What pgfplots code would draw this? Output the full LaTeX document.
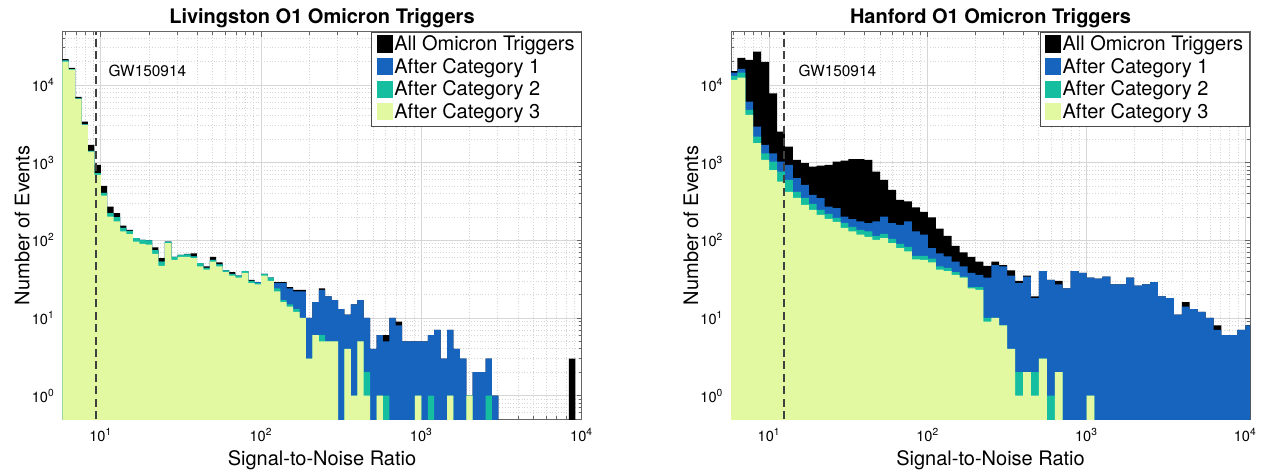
\documentclass[border=0pt]{standalone}
\usepackage{fontspec}
\setmainfont{TeX Gyre Heros}
\usepackage{pgfplots}
\usepackage{pgfplotstable}
\pgfplotsset{compat=1.18}

\definecolor{cA}{RGB}{0,0,0}
\definecolor{cB}{RGB}{22,100,190}
\definecolor{cC}{RGB}{22,190,160}
\definecolor{cD}{RGB}{226,248,161}

% Livingston: bin left edge, counts (All, Cat1, Cat2, Cat3); 0.1 = empty bin
\pgfplotstableread{
x all ca cb cc
5.7544 0.1 0.1 0.1 0.1
5.7544 21500 20800 20800 20000
6.3096 16600 16000 16000 15800
6.9183 7000 6700 6700 6600
7.5858 3370 3100 3100 3060
8.3176 1690 1420 1420 1390
9.1201 935 731 731 696
10 502 408 408 377
10.965 272 223 223 202
12.023 223 199 199 175
13.183 154 144 144 130
14.454 136 132 132 120
15.849 107 107 107 96
17.378 101 101 101 90
19.055 100 100 100 88
20.893 81 75 75 67
22.909 59 53 53 47
25.119 96 96 96 92
27.542 61 61 61 56
30.200 65 65 65 61
33.113 67 66 66 61
36.308 68 62 62 59
39.811 51 51 51 46
43.652 46 44 44 42
47.863 61 56 56 53
52.481 52 49 49 46
57.544 41 41 41 39
63.096 39 37 37 35
69.183 35 35 35 33
75.858 40 40 40 38
83.176 31 30 30 28
91.201 29 29 28 27
100 37 37 37 35
109.65 33 33 33 30
120.23 29 28 24 22
131.83 29 28 17 16
144.54 25 24 15 14
158.49 23 22 13 12
173.78 23 22 10 10
190.55 10 10 3 3
208.93 16 16 6 6
229.09 24 23 6 5
251.19 19 19 5 5
275.42 17 17 5 5
302.00 13 13 0.1 0.1
331.13 11 11 4 4
363.08 15 15 1 1
398.11 17 17 5 5
436.52 10 10 2 1
478.63 4 4 0.1 0.1
524.81 6 6 1 1
575.44 6 5 1 0.1
630.96 10 10 0.1 0.1
691.83 9 8 0.1 0.1
758.58 5 5 0.1 0.1
831.76 5 5 0.1 0.1
912.01 5 5 1 1
1000 5 5 0.1 0.1
1096.5 6 6 1 0.1
1202.3 7 7 0.1 0.1
1318.3 3 3 0.1 0.1
1445.4 7 7 1 1
1584.9 4 4 0.1 0.1
1737.8 3 3 0.1 0.1
1905.5 1 1 1 1
2089.3 2 2 0.1 0.1
2290.9 2 2 0.1 0.1
2511.9 3 3 1 0.1
2754.2 1 1 0.1 0.1
3020.0 0.1 0.1 0.1 0.1
8317.6 3 0.1 0.1 0.1
9120.1 0.1 0.1 0.1 0.1
10000 0.1 0.1 0.1 0.1
}\Ltab

% Hanford
\pgfplotstableread{
x all ca cb cc
5.6234 0.1 0.1 0.1 0.1
5.6234 15100 14400 13100 11600
6.3096 22400 16100 14400 12400
7.0795 21000 6100 4760 4110
7.9433 26800 2910 2160 1780
8.9125 19900 1690 1320 1085
10 7820 1320 1030 800
11.220 2510 1030 767 570
12.589 1610 935 600 421
14.125 1085 631 421 352
15.849 984 517 352 286
17.783 889 385 295 247
19.953 916 349 247 213
22.387 935 272 219 189
25.119 1030 259 195 173
28.184 1064 202 168 145
31.623 1107 187 149 130
35.481 1107 175 136 118
39.811 1085 166 130 111
44.668 767 175 114 101
50.119 600 202 121 107
56.234 446 166 104 92
63.096 332 158 90 79
70.795 316 175 82 72
79.433 266 130 63 57
89.125 233 118 63 56
100 198 79 58 52
112.20 141 68 46 42
125.89 114 62 44 40
141.25 85 53 39 36
158.49 70 46 34 33
177.83 61 38 25 24
199.53 53 36 25 23
223.87 47 33 10 9
251.19 53 48 10 10
281.84 48 46 8 8
316.23 41 35 4 4
354.81 30 28 2 1
398.11 35 34 2 2
446.68 19 18 2 1
501.19 40 40 3 3
562.34 31 31 1 0.1
630.96 30 27 2 2
707.95 24 24 0.1 0.1
794.33 40 40 0.1 0.1
891.25 38 38 0.1 0.1
1000 33 33 1 1
1122.0 32 32 0.1 0.1
1258.9 34 34 0.1 0.1
1412.5 27 27 0.1 0.1
1584.9 27 27 0.1 0.1
1778.3 33 33 0.1 0.1
1995.3 26 26 0.1 0.1
2238.7 27 27 0.1 0.1
2511.9 29 29 0.1 0.1
2818.4 19 19 0.1 0.1
3162.3 18 18 0.1 0.1
3548.1 11 11 0.1 0.1
3981.1 16 14 0.1 0.1
4466.8 13 13 0.1 0.1
5011.9 12 12 0.1 0.1
5623.4 10 10 0.1 0.1
6309.6 8 7 0.1 0.1
7079.5 6 6 0.1 0.1
7943.3 6 6 0.1 0.1
8912.5 7 7 0.1 0.1
10000 8 8 0.1 0.1
11220 8 8 0.1 0.1
11220 0.1 0.1 0.1 0.1
}\Htab

\begin{document}
\begin{tikzpicture}
\useasboundingbox (0pt,0pt) rectangle (634.5pt,-235.5pt);

\begin{axis}[at={(31.15pt,-209.5pt)}, anchor=south west, width=259.7pt,
    xmin=5.7544, xmax=10000, title={Livingston O1 Omicron Triggers},
    scale only axis,
    height=193.65pt,
    xmode=log, ymode=log,
    ymin=0.5, ymax=48500,
    xtick={10,100,1000,10000},
    xticklabels={10\textsuperscript{1},10\textsuperscript{2},10\textsuperscript{3},10\textsuperscript{4}},
    ytick={1,10,100,1000,10000},
    yticklabels={10\textsuperscript{0},10\textsuperscript{1},10\textsuperscript{2},10\textsuperscript{3},10\textsuperscript{4}},
    minor xtick={6,7,8,9,20,30,40,50,60,70,80,90,200,300,400,500,600,700,800,900,2000,3000,4000,5000,6000,7000,8000,9000},
    minor ytick={0.6,0.7,0.8,0.9,2,3,4,5,6,7,8,9,20,30,40,50,60,70,80,90,200,300,400,500,600,700,800,900,2000,3000,4000,5000,6000,7000,8000,9000,20000,30000,40000},
    tick align=inside,
    major tick length=2.6pt, minor tick length=1.6pt,
    grid=both,
    major grid style={draw=black!16, line width=0.4pt},
    minor grid style={draw=black!16, line width=0.4pt, densely dotted},
    axis line style={draw=black!60, line width=0.45pt},
    tick style={draw=black!60, line width=0.4pt},
    tick label style={font=\fontsize{7.3}{8}\selectfont},
    xticklabel style={anchor=base, inner sep=0pt, yshift=-11.3pt},
    yticklabel style={anchor=east, inner sep=0pt, xshift=-3.6pt},
    title style={font=\bfseries\fontsize{10}{12}\selectfont, at={(axis description cs:0.5,1)}, anchor=base, yshift=-1.8pt},
    xlabel={Signal-to-Noise Ratio},
    ylabel={Number of Events},
    label style={font=\fontsize{10}{12}\selectfont},
    xlabel style={at={(axis description cs:0.5,0)}, anchor=base, yshift=-23pt},
    ylabel style={at={(axis description cs:-0.0635,0.5)}, anchor=base},
    legend style={at={(1,1)}, anchor=north east, draw=black!70, line width=0.4pt, fill=white,
      font=\fontsize{10}{11}\selectfont, inner xsep=2.5pt, inner ysep=1.2pt, row sep=0.3pt,
      nodes={inner sep=0.8pt, text height=7.3pt, text depth=2.1pt}},
    legend cell align=left,
    legend image code/.code={\fill[#1] (0pt,-3.6pt) rectangle (8pt,5pt);},
  ]
\addplot[draw=none, fill=cA, const plot mark left] table[x=x,y=all]{\Ltab};
\addlegendentry{All Omicron Triggers}
\addplot[draw=none, fill=cB, const plot mark left] table[x=x,y=ca]{\Ltab};
\addlegendentry{After Category 1}
\addplot[draw=none, fill=cC, const plot mark left] table[x=x,y=cb]{\Ltab};
\addlegendentry{After Category 2}
\addplot[draw=none, fill=cD, const plot mark left] table[x=x,y=cc]{\Ltab};
\addlegendentry{After Category 3}
\addplot[forget plot, draw=black!75, line width=1.1pt, dash pattern=on 4pt off 2.2pt] coordinates {(9.3,0.5) (9.3,48500)};
\node[anchor=base west, font=\fontsize{7.7}{9}\selectfont, inner sep=0pt] at (rel axis cs:0.0886,0.8856) {GW150914};
\end{axis}

\begin{axis}[at={(365.5pt,-209.5pt)}, anchor=south west, width=259.5pt,
    xmin=5.7544, xmax=10715, title={Hanford O1 Omicron Triggers},
    scale only axis,
    height=193.65pt,
    xmode=log, ymode=log,
    ymin=0.5, ymax=48500,
    xtick={10,100,1000,10000},
    xticklabels={10\textsuperscript{1},10\textsuperscript{2},10\textsuperscript{3},10\textsuperscript{4}},
    ytick={1,10,100,1000,10000},
    yticklabels={10\textsuperscript{0},10\textsuperscript{1},10\textsuperscript{2},10\textsuperscript{3},10\textsuperscript{4}},
    minor xtick={6,7,8,9,20,30,40,50,60,70,80,90,200,300,400,500,600,700,800,900,2000,3000,4000,5000,6000,7000,8000,9000},
    minor ytick={0.6,0.7,0.8,0.9,2,3,4,5,6,7,8,9,20,30,40,50,60,70,80,90,200,300,400,500,600,700,800,900,2000,3000,4000,5000,6000,7000,8000,9000,20000,30000,40000},
    tick align=inside,
    major tick length=2.6pt, minor tick length=1.6pt,
    grid=both,
    major grid style={draw=black!16, line width=0.4pt},
    minor grid style={draw=black!16, line width=0.4pt, densely dotted},
    axis line style={draw=black!60, line width=0.45pt},
    tick style={draw=black!60, line width=0.4pt},
    tick label style={font=\fontsize{7.3}{8}\selectfont},
    xticklabel style={anchor=base, inner sep=0pt, yshift=-11.3pt},
    yticklabel style={anchor=east, inner sep=0pt, xshift=-3.6pt},
    title style={font=\bfseries\fontsize{10}{12}\selectfont, at={(axis description cs:0.5,1)}, anchor=base, yshift=-1.8pt},
    xlabel={Signal-to-Noise Ratio},
    ylabel={Number of Events},
    label style={font=\fontsize{10}{12}\selectfont},
    xlabel style={at={(axis description cs:0.5,0)}, anchor=base, yshift=-23pt},
    ylabel style={at={(axis description cs:-0.0636,0.5)}, anchor=base},
    legend style={at={(1,1)}, anchor=north east, draw=black!70, line width=0.4pt, fill=white,
      font=\fontsize{10}{11}\selectfont, inner xsep=2.5pt, inner ysep=1.2pt, row sep=0.3pt,
      nodes={inner sep=0.8pt, text height=7.3pt, text depth=2.1pt}},
    legend cell align=left,
    legend image code/.code={\fill[#1] (0pt,-3.6pt) rectangle (8pt,5pt);},
  ]
\addplot[draw=none, fill=cA, const plot mark left] table[x=x,y=all]{\Htab};
\addlegendentry{All Omicron Triggers}
\addplot[draw=none, fill=cB, const plot mark left] table[x=x,y=ca]{\Htab};
\addlegendentry{After Category 1}
\addplot[draw=none, fill=cC, const plot mark left] table[x=x,y=cb]{\Htab};
\addlegendentry{After Category 2}
\addplot[draw=none, fill=cD, const plot mark left] table[x=x,y=cc]{\Htab};
\addlegendentry{After Category 3}
\addplot[forget plot, draw=black!75, line width=1.1pt, dash pattern=on 4pt off 2.2pt] coordinates {(12.4,0.5) (12.4,48500)};
\node[anchor=base west, font=\fontsize{7.7}{9}\selectfont, inner sep=0pt] at (rel axis cs:0.1297,0.8856) {GW150914};
\end{axis}
\end{tikzpicture}
\end{document}
